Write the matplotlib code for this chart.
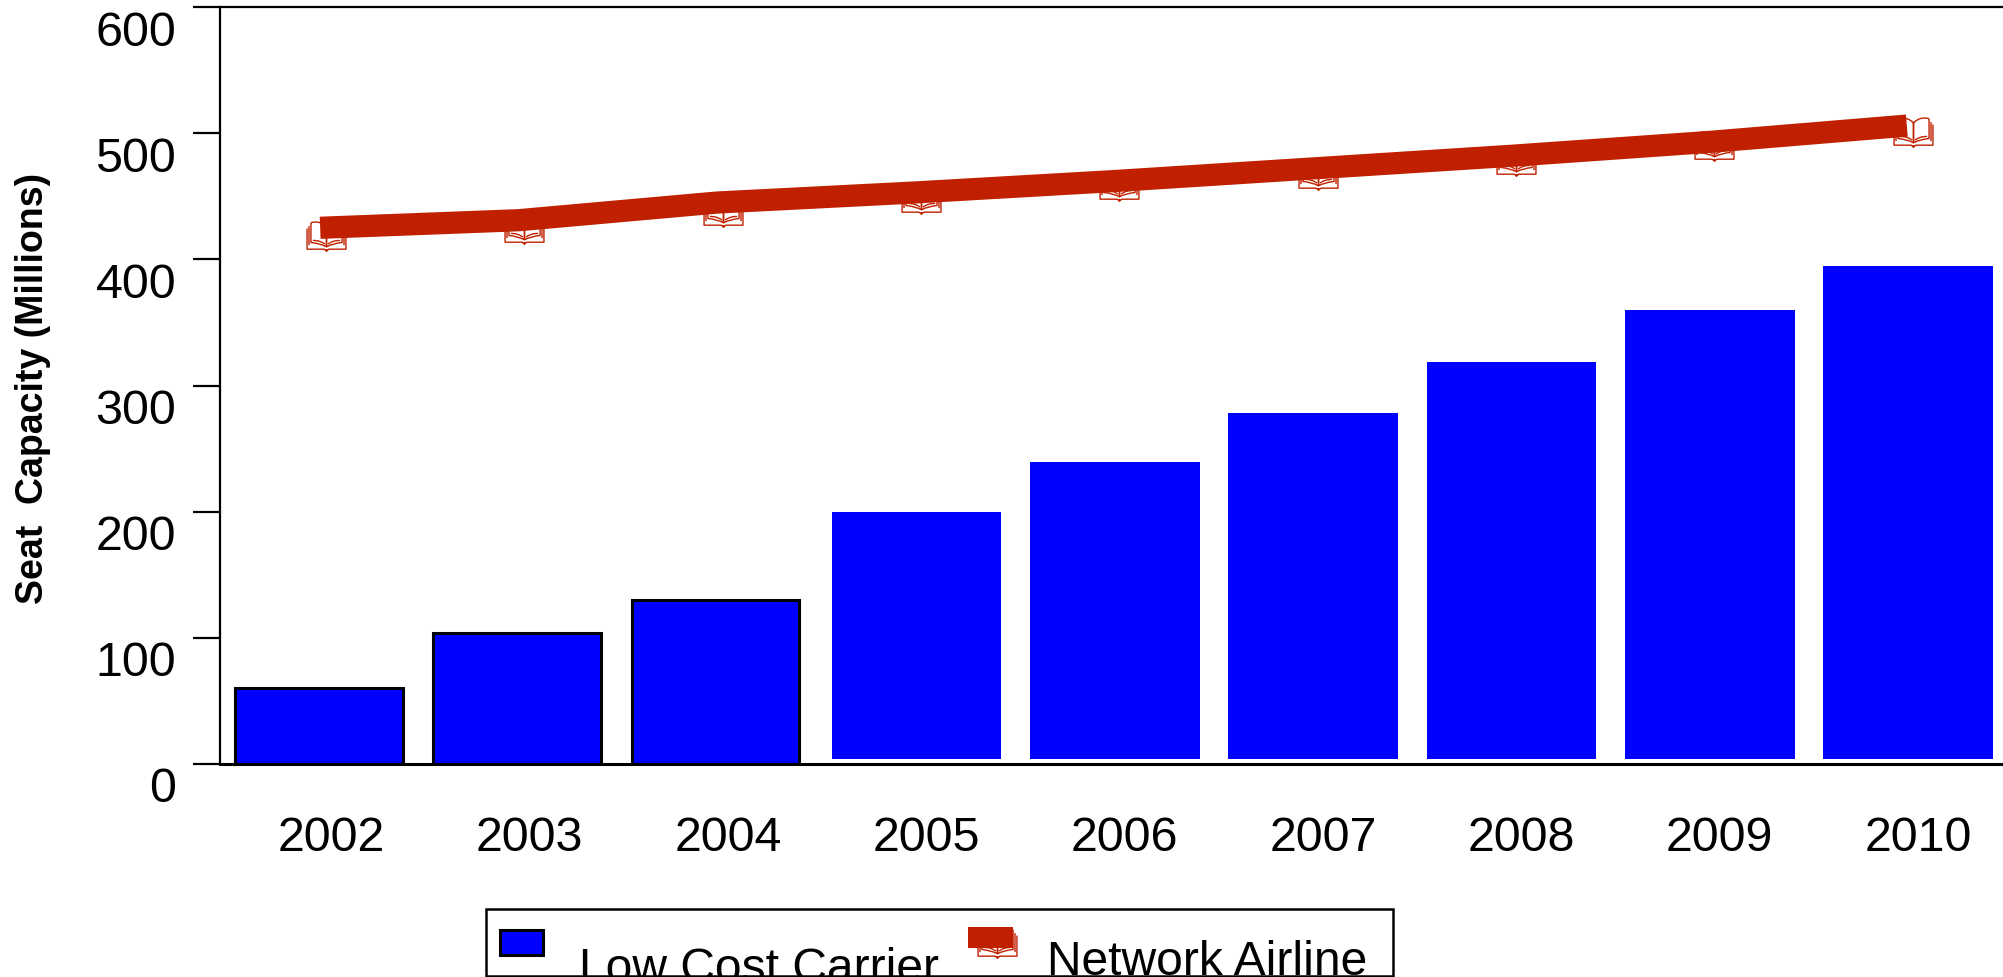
import matplotlib
matplotlib.use('Agg')
import matplotlib.pyplot as plt
from matplotlib.patches import Rectangle
from matplotlib.path import Path
from matplotlib.transforms import ScaledTranslation, offset_copy
import numpy as np

plt.rcParams['font.family'] = ['Liberation Sans', 'DejaVu Sans']

years = ['2002', '2003', '2004', '2005', '2006', '2007', '2008', '2009', '2010']
low_cost = [60, 104, 130, 200, 239, 278, 319, 360, 395]
low_cost_base = [0, 0, 0, 4, 4, 4, 4, 4, 4]
network = [425, 431, 445, 453, 462, 472, 482, 493, 506]
network_points = [419, 425, 438, 449, 459, 468, 479, 491, 502]
y_ticks = [0, 100, 200, 300, 400, 500, 600]

BLUE = '#0000ff'
RED = '#c02000'
W, H = 2003, 978


def book_marker():
    # open book outline, used for the line's point markers
    M, L, C = Path.MOVETO, Path.LINETO, Path.CURVE3
    verts, codes = [], []
    for s in (-1, 1):
        # page
        verts += [(0, .55), (s*.3, .95), (s*.72, .85), (s*.8, .85), (s*.8, .75),
                  (s*.8, -.45), (s*.35, -.5), (0, -.72), (0, .55)]
        codes += [M, C, C, C, C, L, C, C, L]
        # inner page edge
        verts += [(s*.08, -.55), (s*.35, -.3), (s*.7, -.32)]
        codes += [M, C, C]
        # cover
        verts += [(s*.9, .6), (s*.9, -.62), (s*1, .45), (s*1, -.88), (s*.12, -.88),
                  (0, -1), (0, -.88)]
        codes += [M, L, M, L, L, L, L]
    # squat the outline so it is wider than tall
    verts = [(a, b*.8) for a, b in verts]
    return Path(verts, codes)


fig = plt.figure(figsize=(W/100, H/100), dpi=100)
ax = fig.add_axes([220/W, (H-765)/H, 1785/W, 757/H])

x = np.arange(len(years))
base = np.array(low_cost_base)
edges = ['black' if b == 0 else 'none' for b in low_cost_base]
widths = [0.845 if b == 0 else 0.855 for b in low_cost_base]
# outlined bars sit slightly left of the borderless ones
bar_x = x + np.where(base == 0, -0.0064, 0.0064)
ax.bar(bar_x, np.array(low_cost) - base, bottom=base, width=widths, color=BLUE,
       edgecolor=edges, linewidth=2.2, zorder=2)

# markers sit a little to the right of the line's own points
marker_tr = offset_copy(ax.transData, fig=fig, x=6, y=0, units='dots')
ax.plot(x, network_points, ls='none', marker=book_marker(), ms=28, mfc='none', mec=RED,
        mew=1.0, transform=marker_tr, zorder=3, clip_on=False)
ax.plot(x, network, color=RED, lw=16, solid_capstyle='butt', zorder=4)

ax.set_xlim(-0.505, 8.495)
ax.set_ylim(0, 600)
ax.set_xticks(x)
ax.set_xticklabels(years, fontsize=34.8)
ax.set_yticks(y_ticks)
ax.set_yticklabels(y_ticks, fontsize=34.8)
ax.tick_params(axis='x', length=0, pad=37)
ax.tick_params(axis='y', length=19.5, width=1.6, pad=12)
for lab in ax.get_yticklabels():
    lab.set_transform(lab.get_transform() + ScaledTranslation(0, -20/100, fig.dpi_scale_trans))
for lab in ax.get_xticklabels():
    lab.set_transform(lab.get_transform() + ScaledTranslation(11/100, 0, fig.dpi_scale_trans))

ax.spines['right'].set_visible(False)
ax.spines['left'].set_linewidth(1.6)
ax.spines['top'].set_linewidth(1.6)
ax.spines['bottom'].set_linewidth(2.2)
ax.spines['bottom'].set_zorder(5)

fig.text(33/W, 1 - 388/H, 'Seat  Capacity (Millions)', rotation=90, fontsize=27,
         fontweight='bold', ha='center', va='center')

# legend box, laid out by hand
fig.add_artist(Rectangle((486/W, 1 - 977/H), 907/W, 67/H, transform=fig.transFigure,
                         fc='white', ec='black', lw=1.8))
fig.add_artist(Rectangle((500/W, 1 - 956/H), 43/W, 25/H, transform=fig.transFigure,
                         fc=BLUE, ec='black', lw=2.2))
fig.text(579/W, 1 - 982/H, 'Low Cost Carrier', fontsize=34.6, ha='left', va='baseline')
fig.add_artist(plt.Line2D([997/W], [1 - 943/H], transform=fig.transFigure, ls='none',
                          marker=book_marker(), ms=28, mfc='none', mec=RED, mew=1.0))
fig.add_artist(Rectangle((968/W, 1 - 949/H), 45/W, 21/H, transform=fig.transFigure,
                         fc=RED, ec='none'))
fig.text(1047/W, 1 - 975/H, 'Network Airline', fontsize=34.6, ha='left', va='baseline')

fig.savefig('out.png', dpi=100)
